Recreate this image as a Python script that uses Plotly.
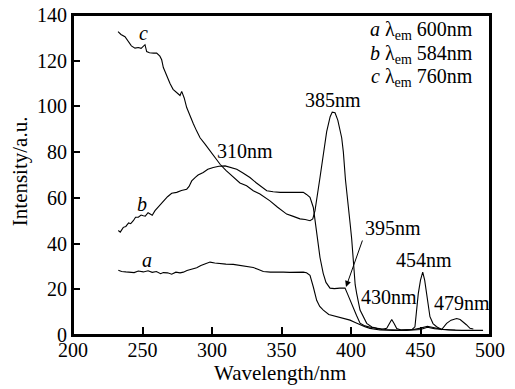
import plotly.graph_objects as go

# Curve a (λem 600 nm)
wl_a = [232.6, 235, 238, 241, 244, 247, 250.6, 254, 257, 260, 263, 265, 268, 271, 274, 277, 279.4, 282, 285, 289,
        292, 295, 298.6, 302, 306, 310, 315.3, 320, 325, 329.7, 333, 336.9, 342, 346, 351.3, 356, 361, 365.7, 368,
        370.5, 372.9, 375.3, 377.5, 380.1, 384, 389.7, 394, 399.3, 403, 406.5, 410, 413.7, 420.9, 430, 440, 450,
        455, 460, 470, 480, 495]
int_a = [28.3, 27.8, 27.6, 27.5, 27.3, 28, 27.6, 28.1, 27.4, 27.8, 26.8, 27.3, 27.2, 26.6, 27.5, 27.2, 27.5, 28.2,
         28.6, 29.4, 30.4, 31, 31.9, 31.5, 31.2, 31, 30.9, 30.5, 30, 29.5, 28.8, 27.8, 27.5, 27.6, 27.5, 27.4, 27.6,
         27.5, 27.2, 26.1, 21, 15.2, 12.5, 10.9, 9, 8, 7.2, 6.5, 5.5, 4.4, 3.6, 2.9, 2.2, 2.0, 2.0, 2.4, 3.4, 2.8,
         2.2, 2.0, 2.0]

# Curve b (λem 584 nm)
wl_b = [232.6, 234, 236.2, 238, 240, 241.5, 243.4, 245, 247, 249, 250.6, 252, 254, 255.4, 257, 259, 262, 265, 268,
        271, 274.6, 278, 281.8, 283.5, 285.4, 288, 290, 293.7, 297, 300.9, 305, 309.4, 313, 317.8, 322, 327.3, 332,
        336, 339.4, 344, 349, 355, 360, 365.7, 368, 370.5, 372.9, 374.1, 376, 377.7, 380, 382, 384.9, 388, 392,
        395.7, 397.5, 399.3, 402, 404, 406.5, 410, 414, 418.7, 425, 435, 445, 450, 455, 460, 465, 475, 485, 495]
int_b = [45.7, 45, 47.1, 47.5, 49, 48.7, 50, 51.5, 51.5, 52.5, 52.2, 52, 53.5, 53, 52.4, 54.4, 56.5, 58.7, 60.5, 62,
         62.4, 63.2, 63.8, 65, 67.4, 69, 70, 71.1, 72.5, 73.3, 73.8, 74, 73.5, 72.5, 71, 68.9, 66.5, 64.5, 63.1,
         62.7, 62.4, 62.4, 62.4, 62.4, 61.5, 60.2, 55.8, 50, 42, 33.9, 27, 23, 20.5, 20.3, 20.5, 20.5, 18, 15.2,
         11.5, 8.5, 5.2, 4, 3.4, 3, 2.4, 2.2, 2.4, 3, 3.8, 3.2, 2.5, 2.2, 2.2, 2.1]

# Curve c (λem 760 nm)
wl_c = [232.4, 234.5, 237.4, 240, 242, 244.6, 247, 249, 251.8, 253, 255, 258, 260.2, 262.5, 263.8, 265, 267, 269.8,
        272, 274.6, 277, 278.2, 280, 281.8, 284, 286.5, 289, 291.4, 295, 298.6, 302, 305.8, 310, 315.3, 320.1,
        324.9, 329.7, 334.5, 341.7, 347, 353.7, 358, 363.3, 367, 370.5, 372.5, 374.1, 377.7, 379.6, 382.5, 385,
        386.5, 388.5, 390.5, 393.3, 394.5, 396, 398, 399.5, 400.5, 401.7, 403, 404.1, 406.5, 411.3, 415, 418.5,
        422, 425.7, 427.5, 429.3, 431, 432.9, 436, 440, 444, 446, 448.4, 450, 451.6, 453, 454.4, 456.8, 459, 461.6,
        465.2, 468.8, 472, 476, 478.5, 480.8, 483, 485.6, 488]
int_c = [132.7, 131.5, 130.5, 128.5, 126.5, 125.5, 125.8, 125.4, 127, 124, 123.5, 123.3, 123.3, 122, 120.4, 117,
         114, 110, 107.5, 105.9, 104.8, 106.6, 103.7, 99.5, 96, 92.5, 89.2, 86.3, 83.5, 80.5, 77.5, 74.7, 72, 68.9,
         66.5, 65.3, 63.1, 61.7, 58.7, 56, 52.9, 52, 50.8, 50.5, 50, 50.8, 54.4, 68.9, 76.2, 89, 95.5, 97.5, 97.2,
         94, 86.3, 80, 68, 58, 48, 42, 30, 22, 18.1, 10.9, 5.1, 3.5, 2.9, 2.4, 2.9, 5, 6.8, 5, 2.8, 2.2, 2.2, 2.4,
         3.6, 18.1, 24, 27.5, 24, 18.1, 8, 5, 3.6, 2.4, 5.1, 6.5, 7.2, 6.8, 5.8, 4.5, 2.9, 2.6]

x_ticks = [200, 250, 300, 350, 400, 450, 500]
y_ticks = [0, 20, 40, 60, 80, 100, 120, 140]
x_title = "Wavelength/nm"
y_title = "Intensity/a.u."

FONT = "Liberation Serif"

fig = go.Figure()
for wl, iy in [(wl_a, int_a), (wl_b, int_b), (wl_c, int_c)]:
    fig.add_trace(go.Scatter(x=wl, y=iy, mode="lines",
                             line=dict(color="black", width=1.1), showlegend=False))

ann_font = dict(family=FONT, size=20, color="black")
peak_labels = [
    ("310nm", 323.7, 80.5),
    ("385nm", 386.7, 103),
    ("430nm", 427, 16.7),
    ("454nm", 452.5, 32.6),
    ("479nm", 479.6, 13.8),
]
annotations = []
for t, x, y in peak_labels:
    annotations.append(dict(x=x, y=y, text=t, showarrow=False, font=ann_font,
                            xanchor="center", yanchor="middle"))
# 395nm with arrow
annotations.append(dict(x=396.4, y=21, ax=408.6, ay=42, axref="x", ayref="y",
                        text="", showarrow=True, arrowhead=2, arrowsize=1.2, arrowwidth=1,
                        arrowcolor="black"))
annotations.append(dict(x=430.2, y=46.6, text="395nm", showarrow=False, font=ann_font,
                        xanchor="center", yanchor="middle"))
# curve letters
for t, x, y in [("a", 253, 32.6), ("b", 249.4, 57.3), ("c", 250.6, 132)]:
    annotations.append(dict(x=x, y=y, text="<i>" + t + "</i>", showarrow=False, font=ann_font,
                            xanchor="center", yanchor="middle"))
# legend text
legend_lines = [("a", "600nm"), ("b", "584nm"), ("c", "760nm")]
legend_y = [0.952, 0.877, 0.805]
for (lt, val), py in zip(legend_lines, legend_y):
    annotations.append(dict(x=0.963, y=py, xref="paper", yref="paper",
                            text="<i>" + lt + "</i> λ<sub>em</sub> " + val, showarrow=False,
                            font=ann_font, xanchor="right", yanchor="middle"))
# axis titles
annotations.append(dict(x=0.497, y=-0.118, xref="paper", yref="paper", text=x_title,
                        showarrow=False, font=dict(family=FONT, size=21, color="black"),
                        xanchor="center", yanchor="middle"))
annotations.append(dict(x=-0.127, y=0.512, xref="paper", yref="paper", text=y_title,
                        showarrow=False, textangle=-90, font=dict(family=FONT, size=21, color="black"),
                        xanchor="center", yanchor="middle"))

# page body has an 8px default margin, so the figure is sized to end at the window edge
fig.update_layout(
    width=507, height=381,
    margin=dict(l=65, r=25, t=7, b=54, autoexpand=False),
    paper_bgcolor="white", plot_bgcolor="white",
    font=dict(family=FONT, size=20, color="black"),
    annotations=annotations,
    shapes=[dict(type="rect", xref="paper", yref="paper", x0=0, y0=0, x1=1, y1=1,
                 line=dict(color="black", width=2), layer="above")],
    xaxis=dict(range=[200, 500], tickvals=x_ticks, ticks="inside", ticklen=8, tickwidth=1.5,
               tickcolor="black", showgrid=False, zeroline=False, showline=True, linecolor="black",
               linewidth=2, mirror=True, automargin=False, ticklabelstandoff=-4,
               ticklabeloverflow="allow", tickfont=dict(family=FONT, size=20)),
    yaxis=dict(range=[0, 140], tickvals=y_ticks, ticks="inside", ticklen=7, tickwidth=1.5,
               tickcolor="black", showgrid=False, zeroline=False, showline=True, linecolor="black",
               linewidth=2, mirror=True, automargin=False, ticklabeloverflow="allow",
               tickfont=dict(family=FONT, size=20)),
)

fig.write_html("out.html")
